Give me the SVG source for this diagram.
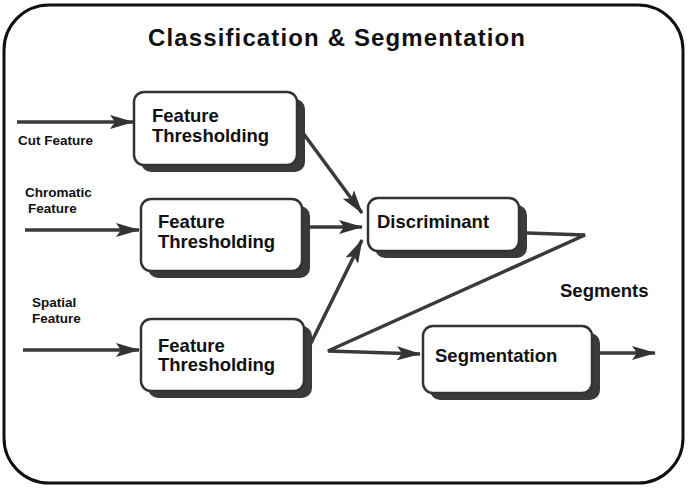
<svg xmlns="http://www.w3.org/2000/svg" width="688" height="489" viewBox="0 0 688 489">
<defs>
<marker id="ah" markerUnits="userSpaceOnUse" markerWidth="24" markerHeight="16" viewBox="0 0 24 16" refX="23" refY="8" orient="auto">
<path d="M0,1 L24,8 L0,15 L5,8 Z" fill="#333"/>
</marker>
</defs>
<style>
.frame{fill:none;stroke:#111;stroke-width:3}
.box{fill:#fff;stroke:#333;stroke-width:2.5}
.sh{fill:#3a3a3a}
.t{font-family:"Liberation Sans",Arial,sans-serif;font-weight:bold;fill:#111}
.lbl{font-size:18.5px}
.sm{font-size:13.5px}
.c{fill:none;stroke:#3a3a3a;stroke-width:3.5;stroke-linejoin:miter}
</style>
<rect class="frame" x="4" y="5" width="679" height="478" rx="45" ry="45"/>
<text class="t" x="336.5" y="46" font-size="24" text-anchor="middle" textLength="377" lengthAdjust="spacing">Classification &amp; Segmentation</text>

<g id="connectors">
<path class="c" d="M17,122 L133,122" marker-end="url(#ah)"/>
<path class="c" d="M25,230 L139,230" marker-end="url(#ah)"/>
<path class="c" d="M23,350 L139,350" marker-end="url(#ah)"/>
<path class="c" d="M303,133 L362,213" marker-end="url(#ah)"/>
<path class="c" d="M310,227 L362,227" marker-end="url(#ah)"/>
<path class="c" d="M310,345 L362,240" marker-end="url(#ah)"/>
<path class="c" d="M527,233 L585,235 L328,351 L420,354" marker-end="url(#ah)"/>
<path class="c" d="M600,353 L655,353" marker-end="url(#ah)"/>
</g>

<g id="input-labels">
<text class="t sm" x="18" y="145">Cut Feature</text>
<text class="t sm" x="25" y="197">Chromatic</text>
<text class="t sm" x="28" y="213">Feature</text>
<text class="t sm" x="32" y="307">Spatial</text>
<text class="t sm" x="32" y="323">Feature</text>
</g>

<g id="threshold1">
<rect class="sh" x="141" y="99" width="164" height="73" rx="10"/>
<rect class="box" x="134" y="92" width="163" height="73" rx="10"/>
<text class="t lbl" x="152" y="122">Feature</text>
<text class="t lbl" x="152" y="142">Thresholding</text>
</g>

<g id="threshold2">
<rect class="sh" x="148" y="206" width="162" height="72" rx="10"/>
<rect class="box" x="141" y="199" width="161" height="72" rx="10"/>
<text class="t lbl" x="158" y="228">Feature</text>
<text class="t lbl" x="158" y="248">Thresholding</text>
</g>

<g id="threshold3">
<rect class="sh" x="148" y="326" width="164" height="72" rx="10"/>
<rect class="box" x="141" y="319" width="163" height="72" rx="10"/>
<text class="t lbl" x="158" y="352">Feature</text>
<text class="t lbl" x="158" y="371">Thresholding</text>
</g>

<g id="discriminant">
<rect class="sh" x="375" y="205" width="152" height="53" rx="10"/>
<rect class="box" x="368" y="198" width="151" height="53" rx="10"/>
<text class="t lbl" x="377" y="228">Discriminant</text>
</g>

<g id="segments-label">
<text class="t lbl" x="560" y="297">Segments</text>
</g>

<g id="segmentation">
<rect class="sh" x="430" y="333" width="170" height="67" rx="10"/>
<rect class="box" x="423" y="326" width="169" height="67" rx="10"/>
<text class="t lbl" x="435" y="362">Segmentation</text>
</g>
</svg>
